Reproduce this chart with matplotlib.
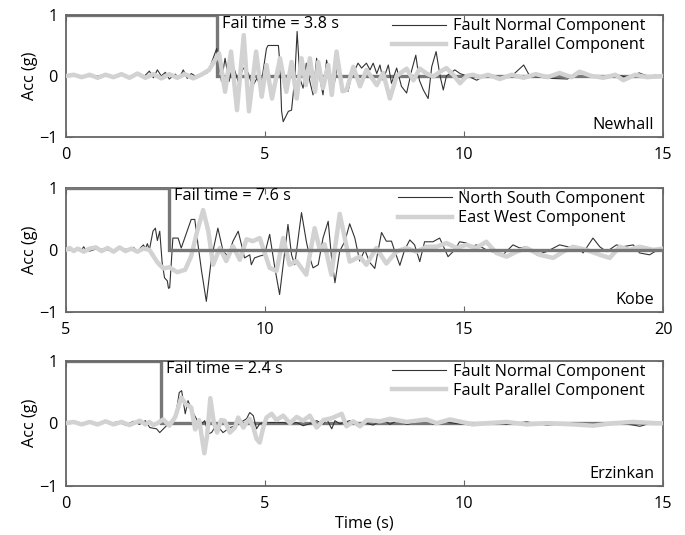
import matplotlib
matplotlib.use("Agg")
import matplotlib.pyplot as plt

# ---- Newhall (fail at 3.8 s) ----
newhall_t_fn = [0.0, 0.3, 0.6, 0.9, 1.2, 1.4, 1.6, 1.8, 1.95, 2.1, 2.2, 2.3, 2.4, 2.5, 2.6,
                2.75, 2.85, 2.95, 3.05, 3.15, 3.3, 3.45, 3.55, 3.65, 3.79, 3.91, 4.0, 4.1, 4.2,
                4.33, 4.46, 4.58, 4.69, 4.8, 4.9, 5.04, 5.08, 5.34, 5.38, 5.42, 5.46, 5.59,
                5.67, 5.75, 5.81, 5.88, 5.96, 6.04, 6.13, 6.21, 6.30, 6.38, 6.46, 6.55, 6.63,
                6.72, 6.84, 6.97, 7.09, 7.18, 7.26, 7.34, 7.43, 7.55, 7.64, 7.72, 7.81, 7.89,
                7.97, 8.10, 8.18, 8.31, 8.43, 8.56, 8.69, 8.79, 8.88, 8.98, 9.10, 9.19, 9.30,
                9.40, 9.48, 9.56, 9.77, 9.9, 10.07, 10.19, 10.32, 10.5, 10.7, 10.9, 11.2, 11.5,
                11.65, 11.9, 12.2, 12.6, 12.9, 13.1, 13.5, 13.8, 14.1, 14.4, 14.6, 14.8, 15.0]
newhall_fn = [0.0, 0.01, -0.01, 0.01, -0.01, 0.02, -0.02, 0.03, -0.02, 0.08, -0.03, 0.1, 0.0,
              0.06, -0.05, 0.03, -0.04, 0.1, -0.04, 0.04, -0.02, 0.02, 0.05, 0.2, 0.45, -0.09,
              0.29, -0.09, 0.18, -0.09, 0.13, 0.05, -0.17, -0.04, -0.17, 0.45, 0.5, 0.5, 0.18,
              -0.58, -0.75, -0.58, -0.56, -0.04, 0.73, -0.04, -0.2, 0.21, -0.09, -0.31, 0.29,
              -0.04, -0.31, 0.26, 0.0, -0.2, 0.21, -0.23, -0.25, 0.02, 0.1, 0.21, 0.13, 0.21,
              0.1, 0.21, 0.04, 0.18, -0.07, 0.18, -0.12, 0.13, -0.17, -0.28, 0.1, 0.34, -0.07,
              -0.23, -0.37, 0.15, 0.4, 0.0, -0.23, 0.0, 0.1, 0.04, 0.0, -0.03, -0.07, 0.0, 0.02,
              -0.05, 0.0, 0.18, 0.0, -0.02, -0.04, -0.05, 0.07, 0.0, -0.04, 0.02, -0.02, 0.05,
              0.0, 0.01, 0.0]
newhall_t_fp = [0.0, 0.2, 0.4, 0.6, 0.8, 1.0, 1.2, 1.4, 1.6, 1.8, 2.0, 2.2, 2.4, 2.6, 2.8, 3.0,
                3.2, 3.4, 3.6, 3.85, 4.0, 4.15, 4.3, 4.47, 4.6, 4.78, 4.92, 5.04, 5.18, 5.38,
                5.54, 5.67, 5.80, 5.92, 6.03, 6.13, 6.26, 6.34, 6.46, 6.59, 6.68, 6.80, 6.95,
                7.05, 7.22, 7.39, 7.55, 7.81, 7.97, 8.14, 8.31, 8.56, 8.73, 8.89, 9.06, 9.23,
                9.40, 9.56, 9.73, 9.9, 10.07, 10.23, 10.4, 10.6, 10.9, 11.2, 11.5, 11.8, 12.1,
                12.4, 12.7, 12.9, 13.2, 13.5, 13.8, 14.0, 14.3, 14.6, 15.0]
newhall_fp = [0.0, 0.02, -0.02, 0.02, -0.03, 0.02, -0.02, 0.03, -0.03, 0.04, -0.03, 0.03,
              -0.04, 0.03, -0.03, 0.03, -0.04, 0.02, 0.1, 0.37, -0.26, 0.4, -0.56, 0.67, -0.58,
              0.4, -0.34, 0.18, -0.37, 0.29, -0.26, 0.23, -0.37, 0.29, -0.15, 0.29, -0.26, 0.23,
              -0.2, 0.18, -0.31, 0.4, -0.25, -0.23, 0.15, -0.17, 0.1, -0.15, 0.05, -0.37, 0.0,
              0.12, -0.07, 0.12, 0.04, -0.01, 0.07, 0.13, 0.02, -0.12, 0.0, 0.02, -0.02, 0.02,
              -0.05, 0.02, -0.03, 0.03, -0.02, 0.05, -0.02, 0.07, 0.0, -0.03, 0.02, -0.07, 0.02,
              -0.02, 0.0]

# ---- Kobe (fail at 7.6 s) ----
kobe_t_ns = [5.40, 5.45, 5.5, 5.6, 5.8, 6.0, 6.2, 6.4, 6.6, 6.7, 6.8, 6.95, 7.0, 7.05, 7.1,
             7.19, 7.25, 7.3, 7.36, 7.42, 7.48, 7.55, 7.58, 7.61, 7.69, 7.82, 7.90, 8.15, 8.24,
             8.32, 8.41, 8.53, 8.66, 8.82, 8.95, 9.07, 9.20, 9.33, 9.41, 9.49, 9.62, 9.66, 9.74,
             9.87, 9.99, 10.12, 10.25, 10.37, 10.46, 10.58, 10.67, 10.75, 10.92, 11.04, 11.13,
             11.21, 11.34, 11.46, 11.59, 11.67, 11.76, 11.88, 12.01, 12.13, 12.26, 12.38, 12.51,
             12.63, 12.76, 12.93, 13.05, 13.18, 13.26, 13.39, 13.51, 13.64, 13.76, 13.89, 14.01,
             14.22, 14.39, 14.60, 14.77, 14.89, 15.06, 15.19, 15.31, 15.48, 15.56, 15.81, 15.98,
             16.23, 16.40, 16.57, 16.82, 17.07, 17.40, 17.74, 17.86, 17.99, 18.24, 18.41, 18.58,
             18.83, 18.99, 19.25, 19.41, 19.66, 19.79, 19.92]
kobe_ns = [0.0, 0.05, 0.0, -0.02, 0.02, 0.0, -0.02, 0.02, 0.0, 0.04, -0.02, 0.08, 0.02, 0.1,
           0.0, 0.3, 0.35, 0.15, 0.3, -0.2, -0.45, -0.5, -0.62, -0.61, 0.19, 0.19, 0.03, 0.49,
           0.49, 0.09, -0.34, -0.83, -0.13, 0.35, -0.02, -0.1, 0.14, 0.3, 0.09, -0.13, -0.08,
           -0.24, -0.13, -0.1, -0.08, 0.25, -0.29, -0.72, -0.24, 0.41, -0.08, -0.24, 0.6, 0.14,
           -0.13, -0.29, -0.24, 0.19, 0.46, -0.1, -0.53, -0.02, 0.14, 0.42, 0.19, -0.18, 0.0,
           -0.2, -0.3, 0.28, 0.14, 0.14, -0.02, -0.25, 0.0, 0.16, 0.08, -0.19, 0.13, 0.13, 0.19,
           -0.11, 0.0, 0.13, 0.11, 0.05, 0.08, 0.03, 0.0, -0.05, -0.08, 0.08, 0.03, 0.05, -0.08,
           -0.03, 0.08, 0.03, 0.05, -0.05, 0.19, 0.05, -0.03, 0.08, 0.05, 0.08, -0.05, -0.08,
           -0.03, 0.0]
kobe_t_ew = [5.0, 5.1, 5.2, 5.3, 5.45, 5.6, 5.75, 5.9, 6.05, 6.2, 6.35, 6.5, 6.65, 6.8, 6.95,
             7.1, 7.2, 7.3, 7.45, 7.6, 7.8, 8.0, 8.15, 8.3, 8.45, 8.58, 8.70, 8.87, 9.03, 9.20,
             9.37, 9.54, 9.70, 9.87, 10.12, 10.29, 10.46, 10.62, 10.79, 11.04, 11.25, 11.38,
             11.50, 11.67, 11.88, 12.13, 12.38, 12.55, 12.80, 13.05, 13.30, 13.55, 13.81, 14.06,
             14.31, 14.56, 14.81, 15.06, 15.31, 15.56, 15.81, 16.07, 16.32, 16.57, 16.90, 17.24,
             17.49, 17.74, 18.07, 18.41, 18.66, 18.91, 19.16, 19.41, 19.75, 20.0]
kobe_ew = [0.0, 0.03, -0.02, 0.02, -0.03, 0.02, 0.04, -0.02, 0.03, -0.03, 0.04, -0.02, 0.02,
           -0.03, 0.02, 0.0, -0.1, -0.2, -0.3, -0.28, -0.36, -0.32, -0.1, 0.3, 0.64, 0.3, -0.24,
           0.03, -0.18, 0.06, -0.16, 0.17, 0.14, 0.19, -0.29, -0.34, 0.19, -0.24, -0.18, -0.4,
           0.35, 0.0, 0.09, -0.4, 0.58, -0.19, -0.11, -0.24, 0.03, -0.22, -0.03, 0.03, -0.03,
           0.05, 0.05, 0.11, 0.03, 0.08, 0.03, 0.13, -0.05, -0.11, -0.03, 0.03, -0.08, -0.13,
           -0.03, 0.05, 0.0, -0.08, -0.13, 0.05, 0.0, 0.05, 0.0, 0.02]

# ---- Erzinkan (fail at 2.4 s) ----
erz_t_fn = [1.1, 1.3, 1.5, 1.7, 1.85, 2.0, 2.11, 2.28, 2.36, 2.53, 2.70, 2.78, 2.85, 2.91,
            2.95, 3.0, 3.07, 3.17, 3.28, 3.37, 3.49, 3.58, 3.66, 3.74, 3.79, 3.87, 3.95, 4.12,
            4.29, 4.46, 4.54, 4.62, 4.71, 4.79, 4.87, 5.0, 5.13, 5.46, 5.63, 5.80, 5.96, 6.13,
            6.30, 6.47, 6.55, 6.68, 6.76, 6.88, 7.13, 7.3, 7.47, 7.72, 7.97, 8.14, 8.35, 8.56,
            8.89, 9.10, 9.23, 9.40, 9.73, 10.23, 10.57, 11.07, 11.57, 12.08, 12.75, 13.25,
            13.8, 14.25, 14.42, 14.67, 15.0]
erz_fn = [0.0, 0.02, -0.03, 0.03, -0.02, 0.04, -0.07, -0.09, -0.15, -0.04, 0.01, 0.2, 0.49,
          0.52, 0.36, 0.15, 0.36, 0.2, 0.07, -0.03, 0.04, -0.17, -0.15, -0.07, -0.12, -0.09,
          -0.15, -0.07, -0.04, 0.04, 0.07, 0.17, 0.12, -0.09, -0.01, 0.01, 0.01, 0.01, -0.01,
          0.01, -0.04, -0.01, 0.04, -0.01, 0.07, -0.09, 0.04, -0.01, 0.04, -0.03, 0.01, -0.03,
          0.06, -0.02, 0.05, -0.02, 0.03, 0.06, -0.02, 0.03, 0.0, -0.03, 0.02, -0.02, 0.02,
          -0.03, 0.0, -0.02, 0.01, -0.03, -0.05, 0.0, 0.0]
erz_t_fp = [0.0, 0.2, 0.4, 0.6, 0.8, 1.0, 1.2, 1.4, 1.6, 1.86, 2.0, 2.1, 2.2, 2.3, 2.45, 2.6,
            2.75, 2.9, 3.02, 3.15, 3.25, 3.35, 3.48, 3.55, 3.63, 3.72, 3.80, 3.90, 3.99, 4.12,
            4.25, 4.33, 4.46, 4.54, 4.62, 4.71, 4.79, 4.87, 4.96, 5.04, 5.17, 5.29, 5.46, 5.63,
            5.80, 5.96, 6.13, 6.30, 6.47, 6.68, 6.93, 7.05, 7.22, 7.39, 7.56, 7.89, 8.14, 8.56,
            9.06, 9.31, 9.65, 10.23, 10.57, 11.07, 11.57, 12.08, 12.75, 13.25, 13.75, 14.25,
            14.84, 15.0]
erz_fp = [0.0, 0.02, -0.02, 0.02, -0.02, 0.03, -0.02, 0.02, -0.03, 0.04, -0.02, 0.02, -0.03,
          0.0, 0.06, -0.04, 0.1, 0.41, 0.3, 0.25, -0.1, 0.05, -0.48, -0.2, 0.4, 0.0, -0.15,
          0.05, 0.04, -0.15, -0.07, 0.09, -0.07, 0.01, 0.07, -0.07, -0.25, -0.31, -0.07, 0.09,
          0.15, 0.05, 0.12, 0.0, 0.1, 0.04, 0.12, -0.07, 0.05, 0.08, 0.15, -0.05, 0.03, -0.05,
          0.05, 0.03, 0.07, 0.02, 0.06, 0.0, 0.06, -0.02, 0.0, 0.02, -0.02, 0.0, -0.02, -0.04,
          0.0, 0.02, 0.0, 0.0]

panels = [
    ("Newhall", 3.8, (0, 15), [0, 5, 10, 15],
     (newhall_t_fn, newhall_fn, "Fault Normal Component"),
     (newhall_t_fp, newhall_fp, "Fault Parallel Component")),
    ("Kobe", 7.6, (5, 20), [5, 10, 15, 20],
     (kobe_t_ns, kobe_ns, "North South Component"),
     (kobe_t_ew, kobe_ew, "East West Component")),
    ("Erzinkan", 2.4, (0, 15), [0, 5, 10, 15],
     (erz_t_fn, erz_fn, "Fault Normal Component"),
     (erz_t_fp, erz_fp, "Fault Parallel Component")),
]

plt.rcParams["font.family"] = ["Open Sans", "DejaVu Sans"]
fs = 11.7

fig = plt.figure(figsize=(6.85, 5.35), dpi=100)
rects = [[0.096, 0.744, 0.872, 0.228],
         [0.096, 0.417, 0.872, 0.232],
         [0.096, 0.092, 0.872, 0.234]]

step_col = "#777777"
frame_col = "#666666"

for i, (name, fail, xlim, xticks, thin, thick) in enumerate(panels):
    ax = fig.add_axes(rects[i])
    # step marker on top only for the Kobe panel, as in the source figure
    zs = 4 if name == "Kobe" else 1
    ax.plot([xlim[0], fail, fail, xlim[1]], [1, 1, 0, 0], color=step_col, lw=2.4,
            zorder=zs, solid_joinstyle="miter")
    ax.plot(thin[0], thin[1], color="#333333", lw=0.8, label=thin[2], zorder=2)
    ax.plot(thick[0], thick[1], color="#d2d2d2", lw=3.2, label=thick[2], zorder=3)
    ax.set_xlim(*xlim)
    ax.set_ylim(-1, 1)
    ax.set_xticks(xticks)
    ax.set_yticks([-1, 0, 1])
    ax.set_yticklabels(["\u22121", "0", "1"])
    ax.tick_params(direction="in", length=4, color=frame_col, top=True, right=True,
                   labelsize=fs)
    ax.tick_params(axis="x", pad=7)
    ax.tick_params(axis="y", pad=6)
    for s in ax.spines.values():
        s.set_color(frame_col)
        s.set_linewidth(1.3)
    ax.set_ylabel("Acc (g)", fontsize=fs, labelpad=1)
    ax.text(fail + 0.12, 0.86, f"Fail time = {fail} s", va="center", ha="left",
            fontsize=fs, zorder=6)
    ax.text(0.985, 0.03, name, transform=ax.transAxes, ha="right", va="bottom",
            fontsize=fs)
    ax.legend(loc="upper right", bbox_to_anchor=(0.975, 1.0), frameon=False,
              handlelength=3.3, fontsize=fs, labelspacing=0.2, borderaxespad=0.05,
              handletextpad=0.4, borderpad=0.15)
    if i == 2:
        ax.set_xlabel("Time (s)", fontsize=fs, labelpad=3)

fig.savefig("out.png", dpi=100)
